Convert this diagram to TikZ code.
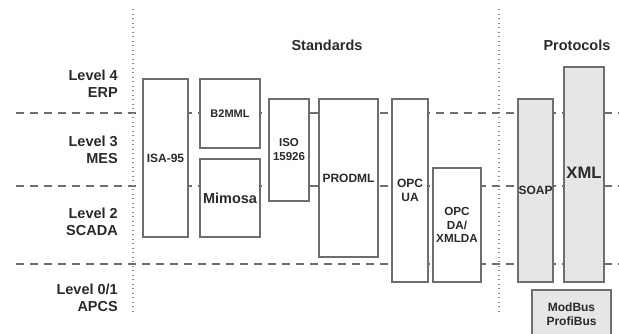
\documentclass[tikz,border=0pt]{standalone}
\usepackage{fontspec}
\setmainfont{Liberation Sans}
\usetikzlibrary{positioning}

\definecolor{txtgray}{HTML}{2A2A2A}
\definecolor{linegray}{HTML}{6E6E6E}
\definecolor{protofill}{HTML}{E6E6E6}

\begin{document}
\begin{tikzpicture}[
    x=1pt, y=-1pt,
    std/.style={draw=linegray, line width=1.2pt, fill=white, inner sep=0pt, align=center,
        text=txtgray, font=\bfseries\fontsize{12}{13}\selectfont},
    proto/.style={std, fill=protofill},
    lvl/.style={anchor=east, align=right, inner sep=0pt, text=txtgray, font=\bfseries\fontsize{14.5}{17}\selectfont},
    title/.style={text=txtgray, font=\bfseries\fontsize{14.5}{17}\selectfont},
    sep/.style={draw=linegray, line width=1.2pt, dash pattern=on 8pt off 6pt},
    divider/.style={draw=linegray!80, line width=1.1pt, dash pattern=on 0.8pt off 3.7pt}
]
\useasboundingbox (0,0) rectangle (619,333);

% level separators and column dividers
\draw[sep] (16,113) -- (619,113);
\draw[sep] (16,186) -- (619,186);
\draw[sep] (16,264) -- (619,264);
\draw[divider] (133,9) -- (133,313);
\draw[divider] (499,9) -- (499,313);

% titles
\node[title] (standards) at (327,45) {Standards};
\node[title] (protocols) at (577,45) {Protocols};

% levels
\node[lvl] (l4) at (118,84) {Level 4\\ERP};
\node[lvl] (l3) at (118,150) {Level 3\\MES};
\node[lvl] (l2) at (118,222) {Level 2\\SCADA};
\node[lvl] (l1) at (118,298) {Level 0/1\\APCS};

% standards
\node[std, minimum width=45pt, minimum height=158pt] (isa) at (165.5,158) {ISA-95};
\node[std, minimum width=60pt, minimum height=69pt, font=\bfseries\fontsize{11}{12}\selectfont] (b2mml) at (230,113.5) {B2MML};
\node[std, minimum width=60pt, minimum height=78pt, font=\bfseries\fontsize{14.5}{16}\selectfont] (mimosa) at (230,198) {Mimosa};
\node[std, minimum width=40pt, minimum height=102pt, font=\bfseries\fontsize{11.5}{14}\selectfont] (iso) at (289,150) {ISO\\15926};
\node[std, minimum width=59pt, minimum height=158pt] (prodml) at (348.5,178) {PRODML};
\node[std, minimum width=36pt, minimum height=183pt, font=\bfseries\fontsize{12}{13.5}\selectfont] (opcua) at (410,190.5) {OPC\\UA};
\node[std, minimum width=48pt, minimum height=114pt, font=\bfseries\fontsize{11.7}{13.5}\selectfont] (opcda) at (457,225) {OPC\\DA/\\XMLDA};

% protocols
\node[proto, minimum width=35pt, minimum height=183pt] (soap) at (535.5,190.5) {SOAP};
\node[proto, minimum width=40pt, minimum height=215pt, font=\bfseries\fontsize{16.6}{18}\selectfont] (xml) at (584,174.5) {\raisebox{4pt}{XML}};
\node[proto, minimum width=79pt, minimum height=48pt, font=\bfseries\fontsize{12}{14}\selectfont] (fieldbus) at (571.5,314) {ModBus\\ProfiBus};
\end{tikzpicture}
\end{document}
